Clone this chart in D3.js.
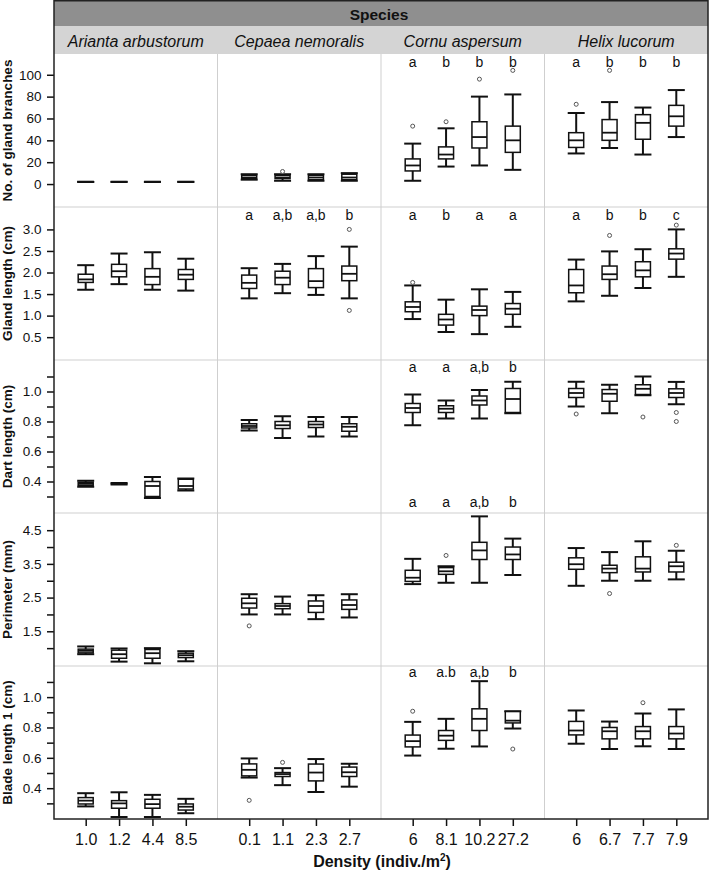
<!DOCTYPE html>
<html>
<head>
<meta charset="utf-8">
<script src="https://cdn.jsdelivr.net/npm/d3@7"></script>
<style>
  body { margin: 0; background: #fff; }
  svg { display: block; font-family: "Liberation Sans", Arial, sans-serif; }
</style>
</head>
<body>
<div id="chart"></div>
<script>
// ---------- data ----------
const species = ["Arianta arbustorum", "Cepaea nemoralis", "Cornu aspersum", "Helix lucorum"];
const densities = [
  ["1.0", "1.2", "4.4", "8.5"],
  ["0.1", "1.1", "2.3", "2.7"],
  ["6", "8.1", "10.2", "27.2"],
  ["6", "6.7", "7.7", "7.9"]
];
const variables = ["No. of gland branches", "Gland length (cm)", "Dart length (cm)", "Perimeter (mm)", "Blade length 1 (cm)"];

// box stats per row: [low whisker, q1, median, q3, high whisker], 4 species x 4 densities
const branchBoxes = [
  [2, 2, 2, 2, 2], [2, 2, 2, 2, 2], [2, 2, 2, 2, 2], [2, 2, 2, 2, 2],
  [4, 5, 6, 8, 9], [3, 5, 6, 8, 9], [3, 4, 6, 8, 9], [3, 4, 6, 9, 10],
  [3, 12, 17, 23, 37], [16, 23, 27, 34, 51], [17, 33, 43, 57, 80], [13, 29, 40, 53, 82],
  [28, 33.5, 40, 47, 65], [33, 40, 47, 59, 75], [27, 41, 56, 63.5, 70], [43, 53, 62, 72, 86]
];
const glandBoxes = [
  [1.6, 1.77, 1.84, 1.96, 2.17], [1.73, 1.9, 2.03, 2.19, 2.44], [1.6, 1.72, 1.9, 2.09, 2.47], [1.58, 1.84, 1.95, 2.07, 2.32],
  [1.4, 1.63, 1.76, 1.94, 2.1], [1.52, 1.72, 1.88, 2.03, 2.2], [1.48, 1.65, 1.8, 2.09, 2.38], [1.4, 1.81, 1.97, 2.15, 2.6],
  [0.92, 1.09, 1.2, 1.32, 1.7], [0.62, 0.78, 0.91, 1.03, 1.37], [0.57, 1.0, 1.13, 1.22, 1.61], [0.74, 1.03, 1.16, 1.28, 1.55],
  [1.33, 1.53, 1.7, 2.07, 2.3], [1.46, 1.84, 1.96, 2.15, 2.49], [1.64, 1.9, 2.05, 2.25, 2.54], [1.9, 2.31, 2.44, 2.55, 3.0]
];
const dartBoxes = [
  [0.365, 0.375, 0.385, 0.395, 0.405], [0.38, 0.383, 0.385, 0.388, 0.39], [0.29, 0.30, 0.37, 0.40, 0.43], [0.34, 0.35, 0.37, 0.415, 0.42],
  [0.74, 0.757, 0.77, 0.785, 0.81], [0.69, 0.753, 0.775, 0.80, 0.835], [0.70, 0.76, 0.78, 0.80, 0.83], [0.70, 0.735, 0.765, 0.785, 0.83],
  [0.775, 0.86, 0.89, 0.92, 0.98], [0.82, 0.86, 0.885, 0.905, 0.94], [0.82, 0.91, 0.94, 0.97, 1.01], [0.855, 0.86, 0.95, 1.02, 1.065],
  [0.90, 0.96, 0.99, 1.02, 1.065], [0.855, 0.935, 0.985, 1.013, 1.045], [0.975, 0.98, 1.018, 1.045, 1.10], [0.915, 0.96, 0.99, 1.018, 1.064]
];
const perimBoxes = [
  [0.82, 0.86, 0.92, 0.97, 1.05], [0.6, 0.70, 0.82, 0.94, 0.99], [0.55, 0.70, 0.85, 0.96, 1.0], [0.61, 0.72, 0.79, 0.85, 0.91],
  [2.0, 2.19, 2.33, 2.48, 2.6], [2.0, 2.17, 2.25, 2.32, 2.53], [1.86, 2.06, 2.25, 2.40, 2.57], [1.91, 2.15, 2.28, 2.43, 2.6],
  [2.9, 2.98, 3.09, 3.31, 3.65], [2.94, 3.19, 3.28, 3.39, 3.43], [2.94, 3.63, 3.9, 4.14, 4.91], [3.17, 3.63, 3.78, 4.0, 4.25],
  [2.85, 3.34, 3.49, 3.68, 3.97], [3.0, 3.24, 3.36, 3.46, 3.85], [3.0, 3.26, 3.36, 3.71, 4.17], [3.04, 3.26, 3.43, 3.55, 3.89]
];
const bladeBoxes = [
  [0.28, 0.296, 0.318, 0.338, 0.367], [0.21, 0.268, 0.30, 0.318, 0.373], [0.21, 0.268, 0.295, 0.327, 0.356], [0.235, 0.256, 0.278, 0.296, 0.33],
  [0.47, 0.481, 0.521, 0.56, 0.596], [0.42, 0.477, 0.493, 0.503, 0.532], [0.375, 0.448, 0.503, 0.559, 0.592], [0.41, 0.477, 0.505, 0.539, 0.561],
  [0.615, 0.672, 0.71, 0.75, 0.837], [0.66, 0.715, 0.746, 0.78, 0.857], [0.675, 0.78, 0.857, 0.923, 1.105], [0.793, 0.83, 0.845, 0.905, 0.907],
  [0.693, 0.751, 0.78, 0.84, 0.912], [0.658, 0.725, 0.775, 0.80, 0.839], [0.676, 0.725, 0.775, 0.806, 0.892], [0.658, 0.725, 0.76, 0.806, 0.919]
];

// outliers per box
const branchOut = [[], [], [], [], [], [11.5], [], [], [53], [57], [96], [104], [73], [104], [], []];
const glandOut = [[], [], [], [], [], [], [], [3.0, 1.12], [1.77], [], [], [], [], [2.86], [], [3.1]];
const dartOut = [[], [], [], [], [], [], [], [], [], [], [], [], [0.85], [], [0.83], [0.86, 0.80]];
const perimOut = [[], [], [], [], [1.66], [], [], [], [], [3.75], [], [], [], [2.62], [], [4.05]];
const bladeOut = [[], [], [], [], [0.32], [0.57], [], [], [0.907], [], [], [0.658], [], [], [0.963], []];

// significance letters
const branchLetters = ["", "", "", "", "", "", "", "", "a", "b", "b", "b", "a", "b", "b", "b"];
const glandLetters = ["", "", "", "", "a", "a,b", "a,b", "b", "a", "b", "a", "a", "a", "b", "b", "c"];
const dartLetters = ["", "", "", "", "", "", "", "", "a", "a", "a,b", "b", "", "", "", ""];
const perimLetters = ["", "", "", "", "", "", "", "", "a", "a", "a,b", "b", "", "", "", ""];
const bladeLetters = ["", "", "", "", "", "", "", "", "a", "a.b", "a,b", "b", "", "", "", ""];

// y axis domains and ticks
const yDomains = [[-21, 119], [-0.03, 3.52], [0.19, 1.21], [0.47, 5.01], [0.197, 1.205]];
const yTicks = [
  [0, 20, 40, 60, 80, 100],
  [0.5, 1.0, 1.5, 2.0, 2.5, 3.0],
  [0.3, 0.4, 0.5, 0.6, 0.7, 0.8, 0.9, 1.0, 1.1],
  [1.0, 1.5, 2.0, 2.5, 3.0, 3.5, 4.0, 4.5],
  [0.3, 0.4, 0.5, 0.6, 0.7, 0.8, 0.9, 1.0, 1.1]
];
const yTickLabels = [
  [0, 20, 40, 60, 80, 100],
  [0.5, 1.0, 1.5, 2.0, 2.5, 3.0],
  [0.4, 0.6, 0.8, 1.0],
  [1.5, 2.5, 3.5, 4.5],
  [0.4, 0.6, 0.8, 1.0]
];

const boxes = [branchBoxes, glandBoxes, dartBoxes, perimBoxes, bladeBoxes];
const outliers = [branchOut, glandOut, dartOut, perimOut, bladeOut];
const letters = [branchLetters, glandLetters, dartLetters, perimLetters, bladeLetters];

// ---------- layout ----------
const width = 709, height = 872;
const pLeft = 54, pRight = 708, pTop = 54, pBottom = 819;
const colW = (pRight - pLeft) / 4;
const rowH = (pBottom - pTop) / 5;
const letterOffset = [12.5, 12.5, 12, -6, 10.5];
const boxW = 15, capW = 17;

const svg = d3.select("#chart")
  .append("svg")
    .attr("width", width)
    .attr("height", height);

// strip headers
svg.append("rect")
  .attr("x", pLeft).attr("y", 0)
  .attr("width", pRight - pLeft).attr("height", 26)
  .attr("fill", "#8f8f8f");
svg.append("rect")
  .attr("x", pLeft).attr("y", 26)
  .attr("width", pRight - pLeft).attr("height", pTop - 26)
  .attr("fill", "#d4d4d4");
svg.append("text")
  .text("Species")
  .attr("x", (pLeft + pRight) / 2 - 2).attr("y", 19.5)
  .attr("text-anchor", "middle")
  .attr("font-weight", "bold")
  .attr("font-size", 15.5)
  .attr("fill", "#111");

const xScales = densities.map((d, s) => d3.scalePoint()
  .domain(d)
  .range([pLeft + s * colW, pLeft + (s + 1) * colW])
  .padding(0.95));

const yScales = yDomains.map((dom, r) => d3.scaleLinear()
  .domain(dom)
  .range([pTop + (r + 1) * rowH, pTop + r * rowH]));

species.forEach((name, s) => {
  svg.append("text")
    .text(name)
    .attr("x", pLeft + (s + 0.5) * colW).attr("y", 46.5)
    .attr("text-anchor", "middle")
    .attr("font-style", "italic")
    .attr("font-size", 16)
    .attr("fill", "#111");
});

// panel separators
const grid = svg.append("g").attr("stroke", "#cfcfcf").attr("stroke-width", 1);
d3.range(1, 4).forEach(i => {
  grid.append("line")
    .attr("x1", pLeft + i * colW).attr("x2", pLeft + i * colW)
    .attr("y1", pTop).attr("y2", pBottom);
});
d3.range(1, 5).forEach(j => {
  grid.append("line")
    .attr("x1", pLeft).attr("x2", pRight)
    .attr("y1", pTop + j * rowH).attr("y2", pTop + j * rowH);
});

// y axes
yScales.forEach((y, r) => {
  const labelled = yTickLabels[r];
  const fmt = r === 0 ? d3.format("d") : d3.format(".1f");
  const axis = d3.axisLeft(y)
    .tickValues(yTicks[r])
    .tickSize(7)
    .tickPadding(5.5)
    .tickFormat(v => labelled.some(l => Math.abs(l - v) < 1e-9) ? fmt(v) : "");
  const g = svg.append("g")
    .attr("transform", `translate(${pLeft}, 0)`)
    .call(axis);
  g.select(".domain").remove();
  g.selectAll(".tick line").attr("stroke", "#111").attr("stroke-width", 1.5);
  g.selectAll(".tick text").attr("font-size", 13.5).attr("fill", "#111")
    .attr("font-family", "Liberation Sans, Arial, sans-serif");

  svg.append("text")
    .text(variables[r])
    .attr("transform", `translate(12, ${pTop + (r + 0.5) * rowH}) rotate(-90)`)
    .attr("text-anchor", "middle")
    .attr("font-weight", "bold")
    .attr("font-size", 13.5)
    .attr("fill", "#111");
});

// x axes
xScales.forEach(x => {
  const g = svg.append("g")
    .attr("transform", `translate(0, ${pBottom})`)
    .call(d3.axisBottom(x).tickSize(7).tickPadding(7.5));
  g.select(".domain").remove();
  g.selectAll(".tick line").attr("stroke", "#111").attr("stroke-width", 1.5);
  g.selectAll(".tick text").attr("font-size", 16).attr("fill", "#111")
    .attr("font-family", "Liberation Sans, Arial, sans-serif");
});

const xTitle = svg.append("text")
  .attr("x", 382).attr("y", 867)
  .attr("text-anchor", "middle")
  .attr("font-weight", "bold")
  .attr("font-size", 16)
  .attr("fill", "#111");
xTitle.append("tspan").text("Density (indiv./m");
xTitle.append("tspan").text("2").attr("font-size", 10).attr("dy", -6);
xTitle.append("tspan").text(")").attr("dy", 6);

// boxplots
boxes.forEach((rowBoxes, r) => {
  const y = yScales[r];
  const g = svg.append("g");
  rowBoxes.forEach((b, i) => {
    const s = Math.floor(i / 4), d = i % 4;
    const cx = xScales[s](densities[s][d]);
    const [lo, q1, med, q3, hi] = b;

    g.append("line")
      .attr("x1", cx).attr("x2", cx)
      .attr("y1", y(lo)).attr("y2", y(hi))
      .attr("stroke", "#111").attr("stroke-width", 2);
    [lo, hi].forEach(v => {
      g.append("line")
        .attr("x1", cx - capW / 2).attr("x2", cx + capW / 2)
        .attr("y1", y(v)).attr("y2", y(v))
        .attr("stroke", "#111").attr("stroke-width", 2);
    });
    g.append("rect")
      .attr("x", cx - boxW / 2).attr("y", y(q3))
      .attr("width", boxW).attr("height", Math.max(0, y(q1) - y(q3)))
      .attr("fill", "#fff")
      .attr("stroke", "#111").attr("stroke-width", 1.5);
    g.append("line")
      .attr("x1", cx - boxW / 2).attr("x2", cx + boxW / 2)
      .attr("y1", y(med)).attr("y2", y(med))
      .attr("stroke", "#111").attr("stroke-width", 1.8);

    outliers[r][i].forEach(v => {
      g.append("circle")
        .attr("cx", cx).attr("cy", y(v)).attr("r", 2)
        .attr("fill", "#fff")
        .attr("stroke", "#555").attr("stroke-width", 1);
    });

    const lab = letters[r][i];
    if (lab) {
      g.append("text")
        .text(lab)
        .attr("x", cx).attr("y", pTop + r * rowH + letterOffset[r])
        .attr("text-anchor", "middle")
        .attr("font-size", 14)
        .attr("fill", "#111");
    }
  });
});

// frame
svg.append("rect")
  .attr("x", pLeft).attr("y", 0.75)
  .attr("width", pRight - pLeft).attr("height", pBottom - 0.75)
  .attr("fill", "none")
  .attr("stroke", "#222").attr("stroke-width", 1.5);
</script>
</body>
</html>
